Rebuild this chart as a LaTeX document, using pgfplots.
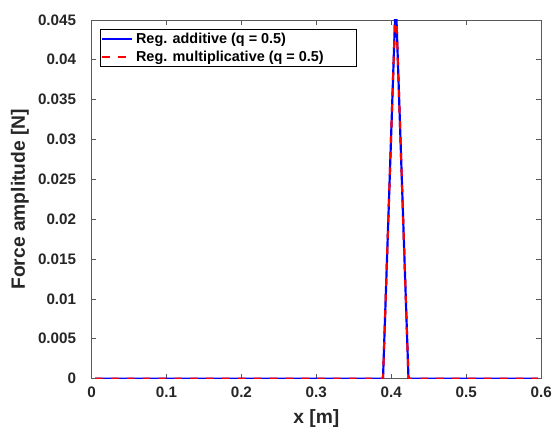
\documentclass[border=0pt]{standalone}
\usepackage{pgfplots}
\pgfplotsset{compat=1.18}
\usepackage{fontspec}
\setmainfont{Liberation Sans}
\begin{document}
\begin{tikzpicture}
\begin{axis}[
  name=ax,
  width=453.7bp, height=362bp, scale only axis,
  xmin=0, xmax=0.6, ymin=0, ymax=0.045,
  scaled y ticks=false, scaled x ticks=false,
  xtick={0,0.1,0.2,0.3,0.4,0.5,0.6},
  xticklabels={0,0.1,0.2,0.3,0.4,0.5,0.6},
  ytick={0,0.005,0.01,0.015,0.02,0.025,0.03,0.035,0.04,0.045},
  yticklabels={0,0.005,0.01,0.015,0.02,0.025,0.03,0.035,0.04,0.045},
  tick align=inside, major tick length=5bp,
  axis line style={black!65, line width=0.6bp},
  every tick/.style={black!65, line width=0.6bp},
  tick label style={font=\fontsize{15.4}{18}\selectfont\bfseries, text=black!85},
  yticklabel style={xshift=-12bp},
  xticklabel style={yshift=-5bp},
  xlabel={x [m]}, ylabel={Force amplitude [N]},
  every axis y label/.style={at={(axis description cs:-0.159,0.5)}, rotate=90, anchor=center,
    font=\fontsize{19.5}{23}\selectfont\bfseries, text=black!85},
  every axis x label/.style={at={(axis description cs:0.5,-0.1243)}, anchor=base,
    font=\fontsize{19.5}{23}\selectfont\bfseries, text=black!85},
  legend style={at={(axis description cs:0,1)}, anchor=north west, xshift=8.7bp, yshift=-9.5bp,
    font=\fontsize{14.6}{17}\selectfont\bfseries, draw=black, line width=0.6bp, fill=white,
    inner xsep=1bp, inner ysep=1bp, nodes={inner sep=2.8bp}},
  legend cell align=left,
  legend image code/.code={\draw[#1] (0bp,0bp) -- (30bp,0bp);},
]
\addplot[blue, line width=2.2bp] coordinates {(0.005,0) (0.389,0) (0.406,0.0478) (0.423,0) (0.596,0)};
\addlegendentry{Reg. additive (q = 0.5)}
\addplot[red, line width=2.2bp, dash pattern=on 7.5bp off 8.5bp] coordinates {(0.005,0) (0.389,0) (0.406,0.0478) (0.423,0) (0.596,0)};
\addlegendentry{Reg. multiplicative (q = 0.5)\rule{29bp}{0pt}}
\end{axis}
\path (ax.south west) ++(-92.3bp,-50bp) rectangle ++(555bp,432bp);
\end{tikzpicture}
\end{document}
